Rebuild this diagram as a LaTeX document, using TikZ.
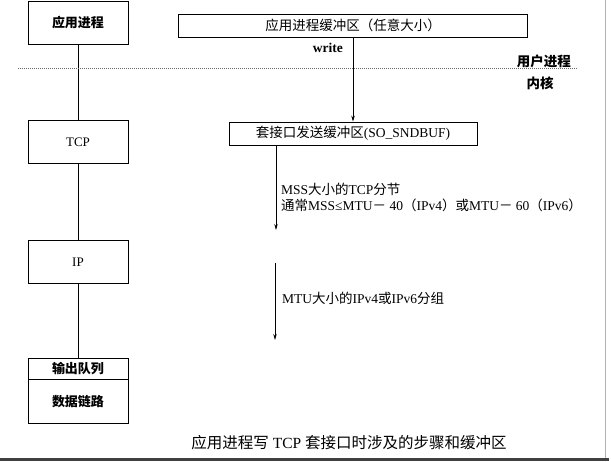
\documentclass[tikz,border=0pt]{standalone}
\usepackage{fontspec}
\setmainfont{Liberation Serif}
\newfontfamily\cjk{Noto Sans CJK SC}
\usetikzlibrary{arrows.meta}
\tikzset{
  layer/.style={draw,line width=0.8pt,minimum width=100pt,minimum height=43pt,inner sep=0pt,font=\fontsize{13}{15}\selectfont},
  bufbox/.style={draw,line width=0.8pt,minimum height=23pt,inner sep=0pt,font=\fontsize{13.5}{15}\selectfont},
  lbl/.style={inner sep=0pt,font=\fontsize{13.5}{16}\selectfont},
  flow/.style={-{Stealth[length=6pt,width=3.5pt]},line width=0.7pt},
  link/.style={line width=0.8pt}
}
\begin{document}
\begin{tikzpicture}[x=1pt,y=-1pt]
\useasboundingbox (0,0) rectangle (611,462);
% protocol stack on the left
\node[layer] (app) at (78,23) {\cjk\bfseries 应用进程};
\node[layer] (tcp) at (78,142) {TCP};
\node[layer] (ip) at (78,262) {IP};
\node[layer,minimum height=21pt] (queue) at (78,368.5) {\cjk\bfseries 输出队列};
\node[layer,minimum height=44pt,anchor=north] (dlink) at (queue.south) {\cjk\bfseries 数据链路};
\draw[link] (app) -- (tcp);
\draw[link] (tcp) -- (ip);
\draw[link] (ip) -- (queue);
% buffers
\node[bufbox,minimum width=349pt] (appbuf) at (353,25.5) {{\cjk 应用进程缓冲区（任意大小）}};
\node[bufbox,minimum width=248pt] (sndbuf) at (353,133.5) {{\cjk 套接口发送缓冲区}(SO\_SNDBUF)};
\draw[flow] (appbuf) -- (sndbuf);
\node[lbl,anchor=east] (write) at (343,48) {\bfseries write};
% user / kernel boundary
\draw[gray!80!black,line width=0.7pt,dash pattern=on 1pt off 1pt] (18,68) -- (577,68);
\node[lbl,anchor=east] (user) at (571,61) {\cjk\bfseries 用户进程};
\node[lbl] (kernel) at (540,83) {\cjk\bfseries 内核};
% segments and packets
\coordinate (mssend) at (276,230);
\draw[flow] (sndbuf.south -| mssend) -- (mssend);
\node[lbl,anchor=west,align=left] (mss) at (281,197) {MSS{\cjk 大小的}TCP{\cjk 分节}\\{\cjk 通常}MSS≤MTU{\cjk －} 40{\cjk （}IPv4{\cjk ）或}MTU{\cjk －} 60{\cjk （}IPv6{\cjk ）}};
\coordinate (mtutop) at (275,263);
\coordinate (mtuend) at (275,340);
\draw[flow] (mtutop) -- (mtuend);
\node[lbl,anchor=west] (mtu) at (282,298) {MTU{\cjk 大小的}IPv4{\cjk 或}IPv6{\cjk 分组}};
% caption
\node[lbl,font=\fontsize{15.5}{17}\selectfont] (caption) at (349,443) {{\cjk 应用进程写} TCP {\cjk 套接口时涉及的步骤和缓冲区}};
% frame
\draw[gray!60,line width=1pt] (605,0) -- (605,458);
\draw[black!75,line width=3pt] (0,459.5) -- (609,459.5);
\end{tikzpicture}
\end{document}
